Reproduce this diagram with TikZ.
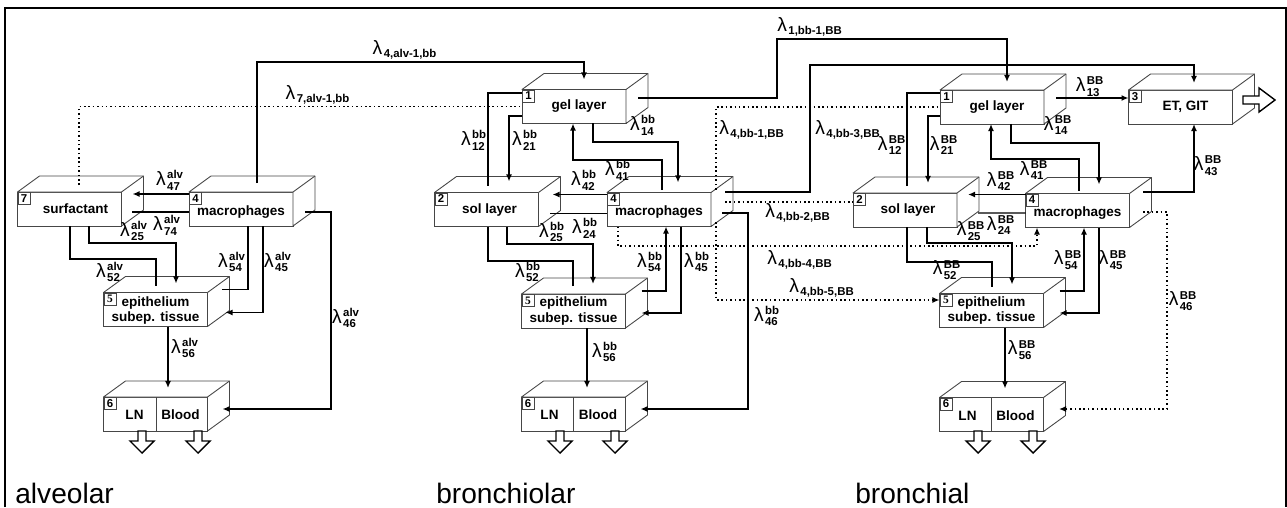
\documentclass[tikz,border=0pt]{standalone}
\usepackage{amsmath}
\usepackage{fontspec}
\setmainfont{Liberation Sans}
\newfontfamily\serifnum{Liberation Serif}
\usepackage{tikz}
\usetikzlibrary{arrows.meta, calc}
\definecolor{boxgray}{RGB}{70, 70, 70}

\newcommand{\scrfont}{\fontsize{6.5}{7}\selectfont\bfseries}
\newcommand{\lam}[2]{$\text{λ}\kern0.8pt^{\text{\scrfont #1}}_{\text{\scrfont #2}}$}
\newcommand{\lamsub}[1]{$\text{λ}\kern0.8pt_{\text{\scrfont #1}}$}

% compartment drawn as a box: name, centre, number, text, text shift
\newcommand{\compartment}[5]{%
    \node[front] (#1) at (#2) {};
    \draw[face] (#1.north west) -- ++(22,-16) -- ($(#1.north east)+(22,-16)$) -- ($(#1.south east)+(22,-16)$) -- (#1.south east) -- (#1.north east) -- cycle;
    \draw[face] (#1.north east) -- ++(22,-16);
    \node[tag] (#1num) at (#1.north west) {#3};
    \node[boxtext] (#1txt) at ($(#1)+(#5)$) {#4};
}

\begin{document}
\begin{tikzpicture}[x=0.02cm, y=-0.02cm,
    front/.style={draw=boxgray, fill=white, line width=0.5pt, minimum width=2.08cm, minimum height=0.68cm, inner sep=0, outer sep=0},
    face/.style={draw=boxgray, fill=white, line width=0.5pt, line join=round},
    tag/.style={draw=boxgray, line width=0.5pt, anchor=north west, minimum size=0.24cm, inner sep=0, font=\fontsize{6.5}{7}\selectfont\bfseries},
    boxtext/.style={font=\fontsize{7.7}{8.6}\selectfont\bfseries, align=center, inner sep=0},
    lab/.style={font=\fontsize{11}{12}\selectfont, inner sep=0},
    conn/.style={line width=0.8pt},
    arr/.style={conn, -{Latex[length=4pt,width=3.4pt]}},
    dotline/.style={line width=0.9pt, dash pattern=on 0.9pt off 1.6pt},
    dotarr/.style={dotline, -{Latex[length=4pt,width=3.4pt]}},
    hollow/.style={draw=black, fill=white, line width=0.8pt},
    section/.style={font=\fontsize{16}{18}\selectfont, anchor=west, inner sep=0}]
    \useasboundingbox (0,0) rectangle (1287,507);
    % frame
    \draw[line width=0.8pt] (5,507) -- (5,8) -- (1286,8) -- (1286,507);

    % --- alveolar ---
    \compartment{surf7a}{69.5,209}{7}{surfactant}{6,0}
    \compartment{mac4a}{241,209}{4}{macrophages}{0,3}
    \compartment{epi5a}{155.5,309.5}{\serifnum 5}{epithelium\\subep. tissue}{0,1}
    \compartment{ln6a}{155.5,414}{6}{LN}{-21,1}
    \draw[face] ($(ln6a.north)+(1,0)$) -- ($(ln6a.south)+(1,0)$);
    \node[boxtext] (ln6aBlood) at ($(ln6a)+(25,1)$) {Blood};

    % --- bronchiolar ---
    \compartment{gel1b}{574,106.5}{1}{gel layer}{5,0}
    \compartment{sol2b}{486.5,209.5}{2}{sol layer}{3,0}
    \compartment{mac4b}{659,209.5}{4}{macrophages}{0,3}
    \compartment{epi5b}{573.5,311}{\serifnum 5}{epithelium\\subep. tissue}{0,0}
    \compartment{ln6b}{573.5,414}{6}{LN}{-24,1}
    \draw[face] (ln6b.north) -- (ln6b.south);
    \node[boxtext] (ln6bBlood) at ($(ln6b)+(24.5,1)$) {Blood};

    % --- bronchial ---
    \compartment{gel1c}{992,107}{1}{gel layer}{5,0}
    \compartment{et3c}{1180.5,107}{3}{ET, GIT}{5,0}
    \compartment{sol2c}{905,210}{2}{sol layer}{3,0}
    \compartment{mac4c}{1077.5,210.5}{4}{macrophages}{0,3}
    \compartment{epi5c}{991.5,310.5}{\serifnum 5}{epithelium\\subep. tissue}{0,0}
    \compartment{ln6c}{991.5,414.5}{6}{LN}{-24,1}
    \draw[face] (ln6c.north) -- (ln6c.south);
    \node[boxtext] (ln6cBlood) at ($(ln6c)+(24,1)$) {Blood};

    % outflow arrows
    \foreach \x in {142,198,560,615,978,1033}
        \draw[hollow] (\x-4,431) -- (\x-4,441) -- (\x-12,441) -- (\x,453) -- (\x+12,441) -- (\x+4,441) -- (\x+4,431) -- cycle;
    \draw[hollow] (1243,96) -- (1259,96) -- (1259,88) -- (1275,100) -- (1259,112) -- (1259,104) -- (1243,104) -- cycle;

    % --- alveolar connectors ---
    \draw[arr] ($(mac4a.north west)+(0,2)$) -- ($(surf7a.north east)+(11,2)$);
    \draw[conn] ($(surf7a.east)+(11,3)$) -- ($(mac4a.west)+(0,3)$);
    \draw[arr] (surf7a.south -| 89,0) |- (176,243) -- ($(epi5a.north -| 176,0)+(0,-9)$);
    \draw[conn] ($(epi5a.north -| 156,0)+(0,-7)$) |- (70,259) -- (surf7a.south -| 70,0);
    \draw[conn] (mac4a.south -| 248,0) |- ($(epi5a.east)+(15,-20)$);
    \draw[arr] (mac4a.south -| 263,0) |- ($(epi5a.east)+(18,3)$);
    \draw[arr] ($(mac4a.east)+(12,3)$) -| (331,409) -- ($(ln6a.east)+(15,-5)$);
    \draw[arr] (epi5a.south -| 168,0) -- ($(ln6a.north -| 168,0)+(0,-9)$);
    \draw[arr] ($(mac4a.north -| 257,0)+(0,-9)$) |- (584,62) -- ($(gel1b.north -| 584,0)+(0,-10)$);
    \draw[dotline] ($(surf7a.north -| 79,0)+(0,-7)$) |- (gel1b.west);

    % --- bronchiolar connectors ---
    \draw[conn] ($(sol2b.north -| 488,0)+(0,-7)$) |- ($(gel1b.north west)+(0,3.5)$);
    \draw[arr] ($(gel1b.west)+(0,9.5)$) -| ($(sol2b.north -| 509,0)+(0,-11)$);
    \draw[arr] (gel1b.south -| 593,0) |- (678,142) -- ($(mac4b.north -| 678,0)+(0,-10)$);
    \draw[arr] ($(mac4b.north -| 662,0)+(0,-3)$) |- (573,160) -- (gel1b.south -| 573,0);
    \draw[arr] ($(mac4b.north west)+(0,2)$) -- ($(sol2b.north east)+(14,2)$);
    \draw[conn] ($(sol2b.east)+(12,4)$) -- ($(mac4b.west)+(0,4)$);
    \draw[arr] (sol2b.south -| 507,0) |- (593,244) -- ($(epi5b.north -| 593,0)+(0,-10)$);
    \draw[conn] ($(epi5b.north -| 573,0)+(0,-8)$) |- (488,261) -- (sol2b.south -| 488,0);
    \draw[arr] ($(epi5b.east)+(16,-20)$) -| (mac4b.south -| 666,0);
    \draw[arr] (mac4b.south -| 681,0) |- ($(epi5b.east)+(16,2)$);
    \draw[arr] ($(mac4b.east)+(11,3.5)$) -| (748,409) -- ($(ln6b.east)+(15,-5)$);
    \draw[arr] (epi5b.south -| 587,0) -- ($(ln6b.north -| 587,0)+(0,-9)$);
    % to the bronchial region
    \draw[arr] ($(gel1b.east)+(12,-8.5)$) -| (777,39) -| ($(gel1c.north -| 1007,0)+(0,-8)$);
    \draw[arr] ($(mac4b.east)+(14,-17.5)$) -| (810,65) -| ($(et3c.north -| 1194,0)+(0,-7)$);
    \draw[dotline] ($(mac4b.east)+(5,-20)$) |- (gel1c.west);
    \draw[dotline] ($(mac4b.east)+(14,-7.5)$) -- ($(sol2c.west)+(0,-8)$);
    \draw[dotarr] (mac4b.south -| 618,0) |- (1037,246) -- (mac4c.south -| 1037,0);
    \draw[dotarr] ($(mac4b.east)+(5,12.5)$) |- (epi5c.west |- 0,300);

    % --- bronchial connectors ---
    \draw[conn] ($(sol2c.north -| 907,0)+(0,-7)$) |- ($(gel1c.north west)+(0,3)$);
    \draw[arr] ($(gel1c.west)+(0,9)$) -| ($(sol2c.north -| 928,0)+(0,-10)$);
    \draw[arr] (gel1c.south -| 1011,0) |- (1099,143) -- ($(mac4c.north -| 1099,0)+(0,-9)$);
    \draw[arr] ($(mac4c.north -| 1079,0)+(0,-3)$) |- (991,159) -- (gel1c.south -| 991,0);
    \draw[arr] ($(gel1c.east)+(12,-9)$) -- (et3c.west |- 0,98);
    \draw[arr] ($(mac4c.north west)+(0,1)$) -- ($(sol2c.north east)+(11,1.5)$);
    \draw[conn] ($(sol2c.east)+(21,3)$) -- ($(mac4c.west)+(0,2.5)$);
    \draw[arr] (sol2c.south -| 927,0) |- (1012,243) -- ($(epi5c.north -| 1012,0)+(0,-9)$);
    \draw[conn] ($(epi5c.north -| 992,0)+(0,-7)$) |- (907,262) -- (sol2c.south -| 907,0);
    \draw[arr] ($(epi5c.east)+(16,-19.5)$) -| (mac4c.south -| 1084,0);
    \draw[arr] (mac4c.south -| 1099,0) |- ($(epi5c.east)+(16,2.5)$);
    \draw[arr] ($(mac4c.east)+(13.5,-18.5)$) -| (et3c.south -| 1194,0);
    \draw[dotarr] ($(mac4c.east)+(13.5,1.5)$) -| (1167,409) -- ($(ln6c.east)+(15.5,-5.5)$);
    \draw[arr] (epi5c.south -| 1005,0) -- ($(ln6c.north -| 1005,0)+(0,-9)$);

    % --- rate labels ---
    \node[lab] (l47a) at (170,180) {\lam{alv}{47}};
    \node[lab] (l74a) at (167,225) {\lam{alv}{74}};
    \node[lab] (l25a) at (134,231) {\lam{alv}{25}};
    \node[lab] (l52a) at (110,272) {\lam{alv}{52}};
    \node[lab] (l54a) at (232,262) {\lam{alv}{54}};
    \node[lab] (l45a) at (278,262) {\lam{alv}{45}};
    \node[lab] (l46a) at (346,318) {\lam{alv}{46}};
    \node[lab] (l56a) at (185,348) {\lam{alv}{56}};
    \node[lab] (l4ab) at (405,50) {\lamsub{4,alv-1,bb}};
    \node[lab] (l7ab) at (318,95) {\lamsub{7,alv-1,bb}};

    \node[lab] (l12b) at (474,140) {\lam{bb}{12}};
    \node[lab] (l21b) at (525,140) {\lam{bb}{21}};
    \node[lab] (l14b) at (643,125) {\lam{bb}{14}};
    \node[lab] (l41b) at (618,170) {\lam{bb}{41}};
    \node[lab] (l42b) at (584,180) {\lam{bb}{42}};
    \node[lab] (l24b) at (585,228) {\lam{bb}{24}};
    \node[lab] (l25b) at (552,232) {\lam{bb}{25}};
    \node[lab] (l52b) at (528,272) {\lam{bb}{52}};
    \node[lab] (l54b) at (650,262) {\lam{bb}{54}};
    \node[lab] (l45b) at (697,262) {\lam{bb}{45}};
    \node[lab] (l46b) at (767,316) {\lam{bb}{46}};
    \node[lab] (l56b) at (605,352) {\lam{bb}{56}};
    \node[lab] (l1bB) at (810,27) {\lamsub{1,bb-1,BB}};
    \node[lab] (l4bB1) at (752,130) {\lamsub{4,bb-1,BB}};
    \node[lab] (l4bB3) at (848,130) {\lamsub{4,bb-3,BB}};
    \node[lab] (l4bB2) at (798,213) {\lamsub{4,bb-2,BB}};
    \node[lab] (l4bB4) at (800,260) {\lamsub{4,bb-4,BB}};
    \node[lab] (l4bB5) at (822,288) {\lamsub{4,bb-5,BB}};

    \node[lab] (l12c) at (892,145) {\lam{BB}{12}};
    \node[lab] (l21c) at (944,145) {\lam{BB}{21}};
    \node[lab] (l14c) at (1058,125) {\lam{BB}{14}};
    \node[lab] (l13c) at (1090,87) {\lam{BB}{13}};
    \node[lab] (l41c) at (1034,170) {\lam{BB}{41}};
    \node[lab] (l42c) at (1001,181) {\lam{BB}{42}};
    \node[lab] (l24c) at (1001,225) {\lam{BB}{24}};
    \node[lab] (l25c) at (971,231) {\lam{BB}{25}};
    \node[lab] (l52c) at (947,270) {\lam{BB}{52}};
    \node[lab] (l54c) at (1068,260) {\lam{BB}{54}};
    \node[lab] (l45c) at (1113,260) {\lam{BB}{45}};
    \node[lab] (l43c) at (1208,166) {\lam{BB}{43}};
    \node[lab] (l46c) at (1183,301) {\lam{BB}{46}};
    \node[lab] (l56c) at (1022,350) {\lam{BB}{56}};

    % --- region names ---
    \node[section] (secalv) at (15,493) {alveolar};
    \node[section] (secbb) at (436,493) {bronchiolar};
    \node[section] (secBB) at (855,493) {bronchial};
\end{tikzpicture}
\end{document}
